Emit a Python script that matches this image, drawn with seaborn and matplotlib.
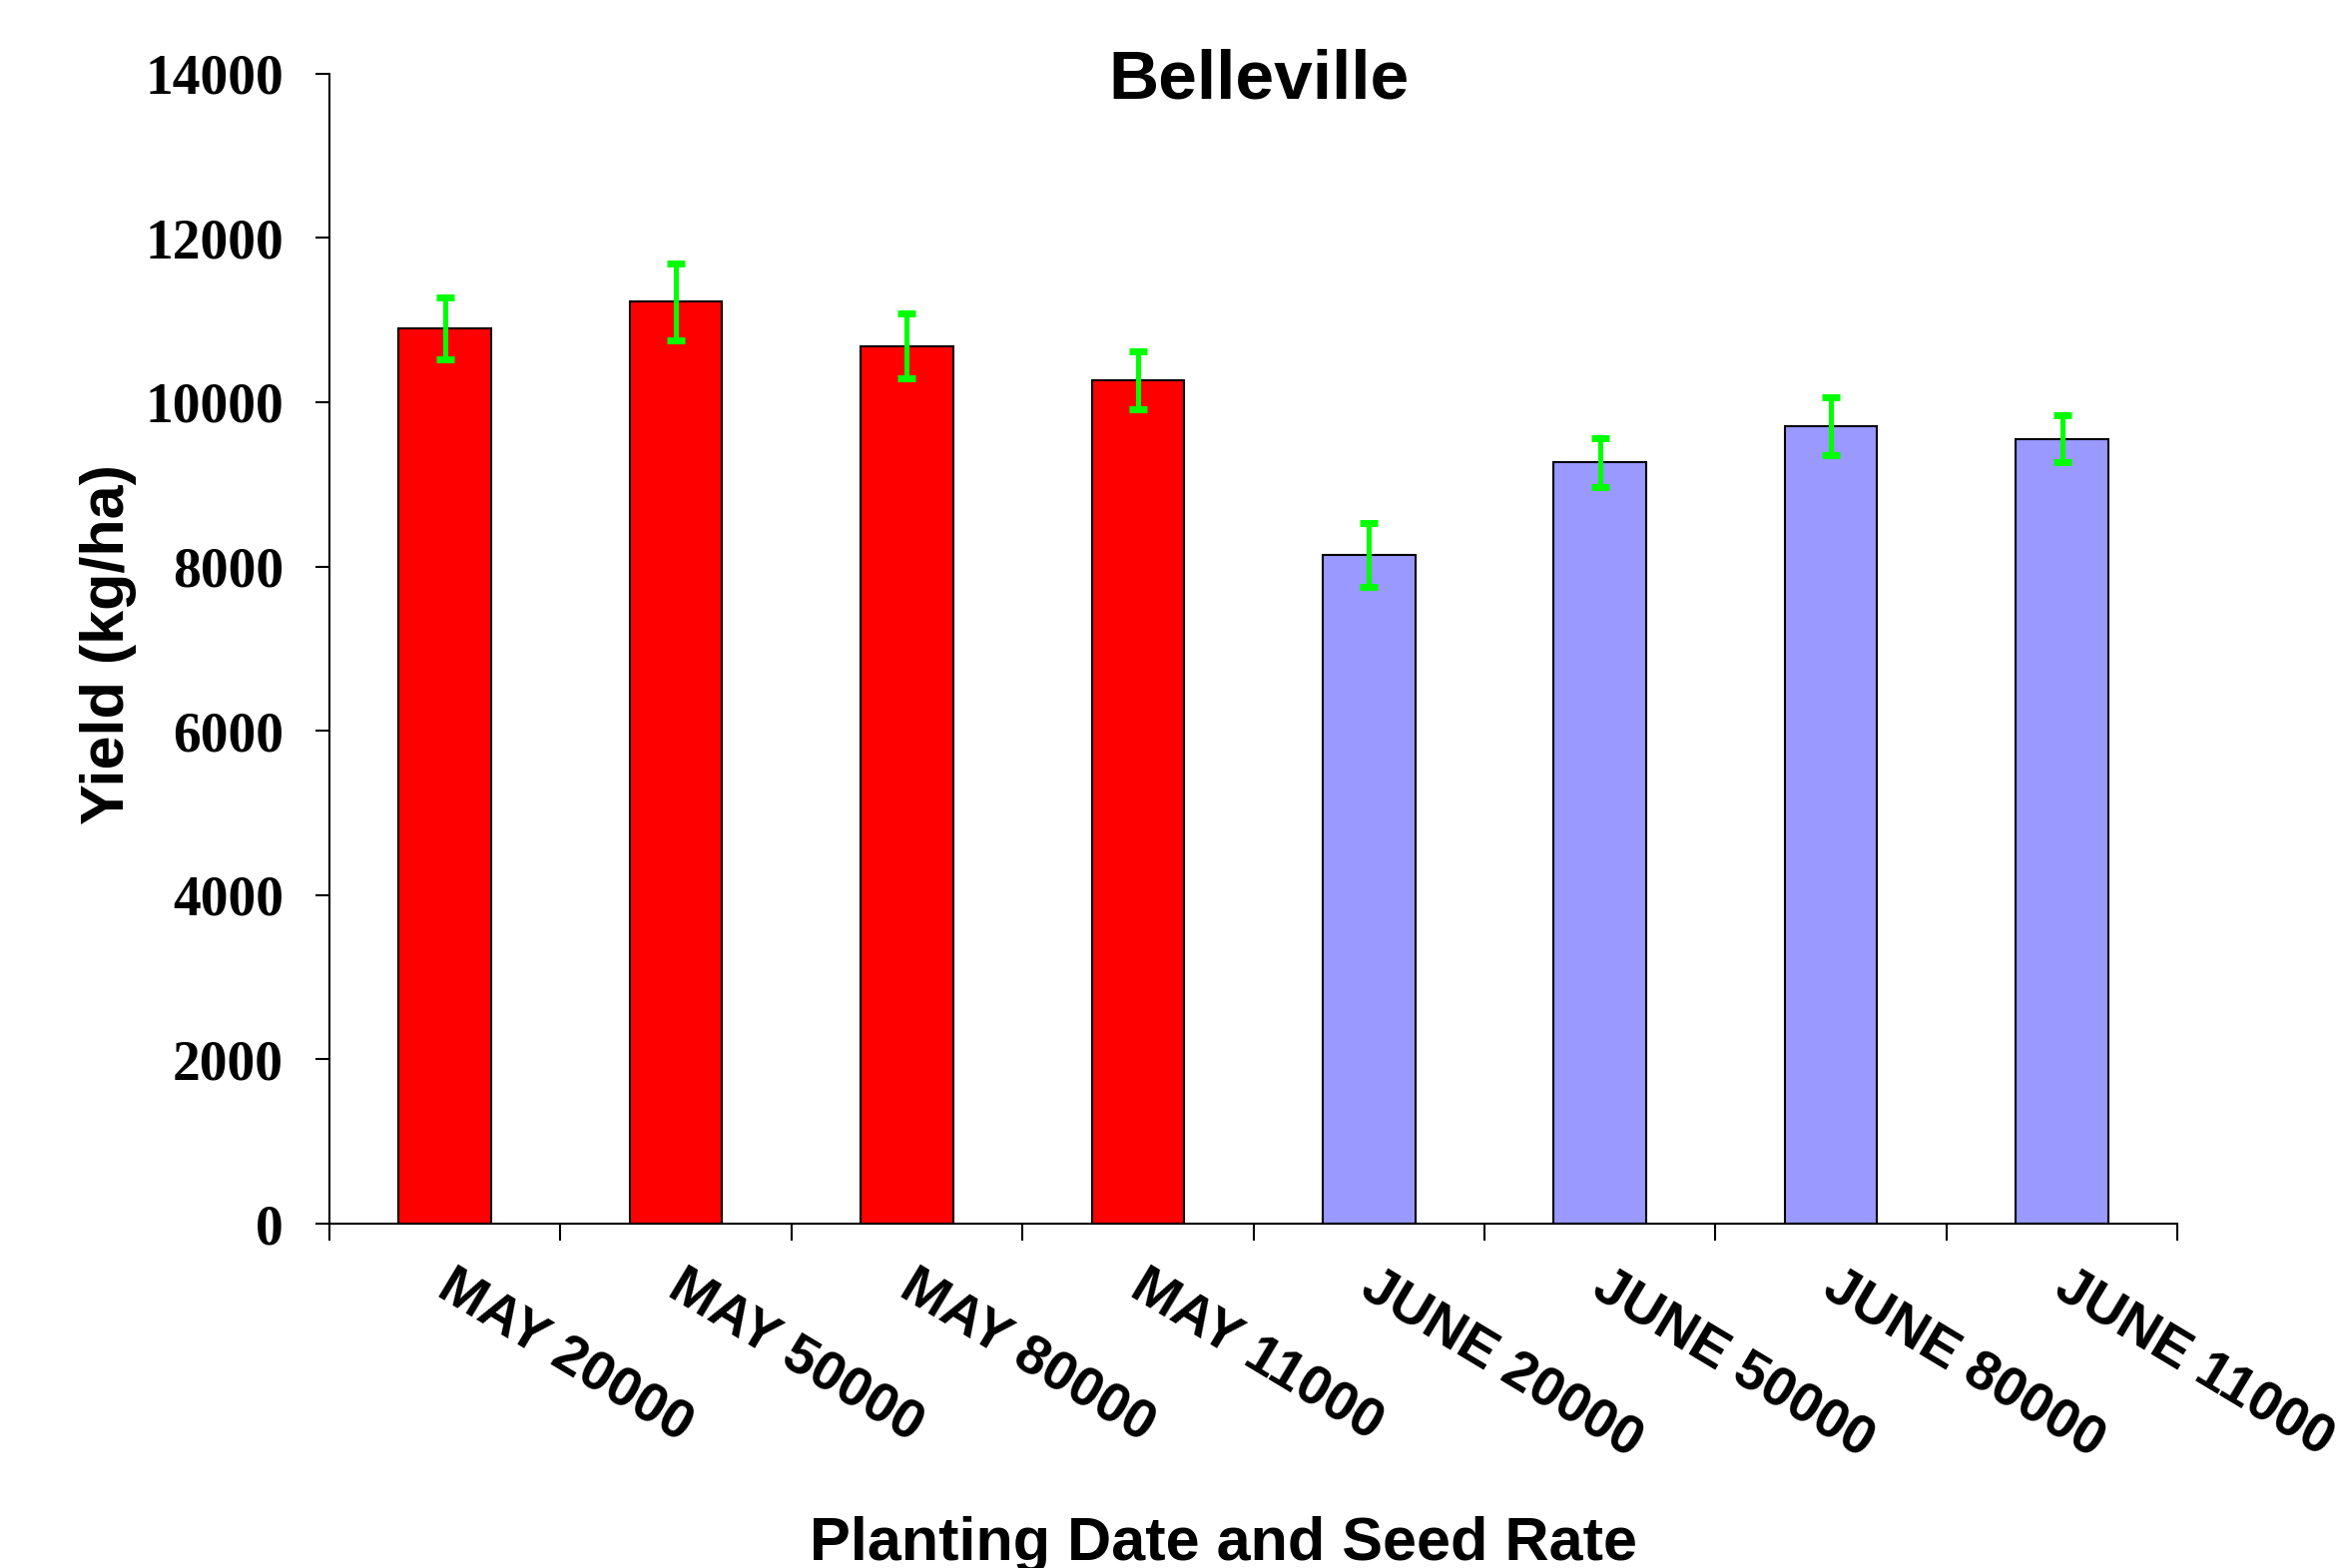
import numpy as np
import pandas as pd
import matplotlib
matplotlib.use("Agg")
import matplotlib.pyplot as plt
import matplotlib.transforms as mtransforms
import seaborn as sns

# values
treatments = ["MAY 20000", "MAY 50000", "MAY 80000", "MAY 11000",
              "JUNE 20000", "JUNE 50000", "JUNE 80000", "JUNE 11000"]
planting = ["MAY", "MAY", "MAY", "MAY", "JUNE", "JUNE", "JUNE", "JUNE"]
yield_kg_ha = [10900, 11220, 10680, 10270, 8140, 9265, 9710, 9550]
yield_err = [380, 470, 395, 350, 385, 300, 350, 285]

df = pd.DataFrame({"treatment": treatments, "planting": planting, "yield": yield_kg_ha})

sns.set_style("white")
plt.rcParams["text.color"] = "black"
plt.rcParams["xtick.color"] = "black"
plt.rcParams["ytick.color"] = "black"
sans = ["Liberation Sans", "DejaVu Sans"]
serif = ["Liberation Serif", "DejaVu Serif"]

fig = plt.figure(figsize=(23.43, 15.71), dpi=100)
ax = fig.add_axes([0.1408, 0.2196, 0.7902, 0.7335])

sns.barplot(data=df, x="treatment", y="yield", hue="planting",
            palette={"MAY": "#FF0000", "JUNE": "#9999FF"}, saturation=1,
            width=0.4, dodge=False, edgecolor="black", linewidth=1.5,
            legend=False, ax=ax)

ax.errorbar(np.arange(len(treatments)), yield_kg_ha, yerr=yield_err, fmt="none",
            ecolor="#00FF00", elinewidth=3.6, capsize=6.5, capthick=5, zorder=5)

ax.set_ylim(0, 14000)
ax.set_xlim(-0.5, len(treatments) - 0.5)
ax.set_yticks(range(0, 14001, 2000))
ax.set_yticklabels([str(v) for v in range(0, 14001, 2000)],
                   fontfamily=serif, fontweight="bold", fontsize=40, color="black")
ax.tick_params(axis="y", direction="out", length=10, width=1.5, pad=23, left=True)

# ticks between categories, labels at the centres
ax.set_xticks(np.arange(-0.5, len(treatments), 1.0))
ax.set_xticklabels([])
ax.tick_params(axis="x", which="major", direction="out", length=12, width=1.5, bottom=True)

lab_trans = mtransforms.blended_transform_factory(ax.transData, ax.transAxes) + \
    mtransforms.ScaledTranslation(0.10, -0.37, fig.dpi_scale_trans)
for i, name in enumerate(treatments):
    ax.text(i, 0, name, transform=lab_trans, rotation=-31, ha="left", va="top",
            rotation_mode="anchor", fontfamily=sans, fontweight="bold", fontsize=40,
            color="black")

ax.set_xlabel("")
ax.set_ylabel("")
for side in ["top", "right"]:
    ax.spines[side].set_visible(False)
for side in ["left", "bottom"]:
    ax.spines[side].set_linewidth(1.5)
    ax.spines[side].set_color("black")
    ax.spines[side].set_zorder(6)

fig.text(0.538, 0.937, "Belleville", ha="center", va="baseline",
         fontfamily=sans, fontweight="bold", fontsize=50)
fig.text(0.0465, 0.589, "Yield (kg/ha)", ha="center", va="center", rotation=90,
         fontfamily=sans, fontweight="bold", fontsize=44)
fig.text(0.523, 0.005, "Planting Date and Seed Rate", ha="center", va="baseline",
         fontfamily=sans, fontweight="bold", fontsize=44)

fig.savefig("out.png", dpi=100)
